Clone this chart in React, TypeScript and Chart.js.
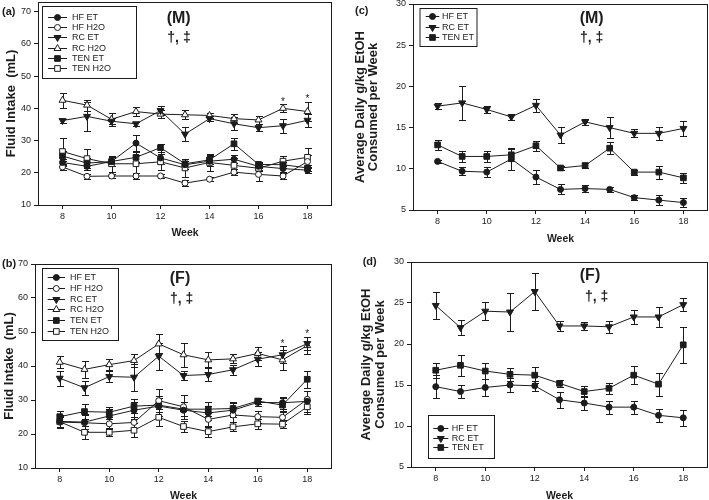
import React, { useEffect, useRef } from 'react';
import { Chart, registerables } from 'chart.js';
import { drawPoint } from 'chart.js/helpers';

Chart.register(...registerables);

const INK = '#1c1c1c';
const FONT = 'Arial, "Liberation Sans", Helvetica, sans-serif';
Chart.defaults.font.family = FONT;

// ---------- shared axes ----------
const weeks = [8, 9, 10, 11, 12, 13, 14, 15, 16, 17, 18];
const weekTicks = [8, 10, 12, 14, 16, 18];
const intakeTicks = [10, 20, 30, 40, 50, 60, 70];
const etohTicks = [5, 10, 15, 20, 25, 30];
const starWeeks = [17, 18];

// ---------- (a) Male fluid intake (mL) ----------
const aHfEt = [23.2, 22.0, 23.5, 29.2, 24.6, 22.5, 23.6, 24.2, 22.0, 21.3, 20.8];
const aHfEtErr = [1.0, 1.2, 1.5, 2.4, 2.0, 1.2, 1.5, 1.3, 1.0, 1.2, 1.0];
const aHfH2o = [21.8, 18.9, 19.0, 19.0, 19.0, 16.8, 18.0, 20.2, 19.5, 19.0, 23.5];
const aHfH2oErr = [1.0, 0.8, 0.7, 0.8, 0.6, 1.0, 0.6, 1.0, 2.0, 0.8, 2.0];
const aRcEt = [36.2, 37.5, 36.0, 35.2, 39.3, 32.0, 36.8, 35.2, 34.0, 34.6, 36.3];
const aRcEtErr = [0.6, 4.5, 1.0, 0.6, 1.5, 2.2, 0.8, 2.0, 1.0, 2.2, 2.0];
const aRcH2o = [42.5, 41.0, 36.6, 39.0, 38.2, 38.0, 37.8, 36.8, 36.4, 40.0, 39.0];
const aRcH2oErr = [2.4, 1.7, 2.0, 1.4, 1.3, 1.4, 0.9, 1.4, 1.2, 1.2, 3.0];
const aTenEt = [25.2, 23.0, 23.5, 24.8, 27.8, 22.8, 24.0, 29.0, 22.6, 22.5, 21.5];
const aTenEtErr = [1.5, 1.5, 1.5, 1.6, 1.2, 1.5, 1.4, 1.8, 0.8, 1.0, 1.0];
const aTenH2o = [26.6, 24.4, 22.8, 22.8, 23.4, 21.5, 23.2, 22.3, 21.4, 23.6, 24.8];
const aTenH2oErr = [4.2, 3.0, 2.5, 2.8, 2.5, 2.8, 2.5, 2.3, 1.0, 1.5, 3.0];

// ---------- (b) Female fluid intake (mL) ----------
const bHfEt = [23.7, 23.5, 25.3, 27.0, 28.2, 27.0, 26.2, 27.0, 29.3, 29.2, 29.6];
const bHfEtErr = [2.0, 2.0, 2.0, 2.5, 3.0, 2.5, 2.0, 2.0, 1.0, 1.8, 3.0];
const bHfH2o = [23.5, 23.3, 23.0, 23.4, 29.8, 28.0, 24.3, 25.6, 25.1, 24.9, 30.2];
const bHfH2oErr = [1.5, 2.5, 1.5, 1.5, 3.3, 3.5, 2.0, 2.0, 1.8, 2.0, 2.5];
const bRcEt = [36.4, 33.6, 36.9, 36.7, 42.9, 37.2, 37.5, 38.9, 42.0, 43.3, 46.6];
const bRcEtErr = [2.2, 2.0, 1.5, 4.0, 4.0, 1.3, 1.8, 1.5, 2.0, 2.5, 2.0];
const bRcH2o = [41.1, 39.0, 40.4, 41.6, 46.5, 43.3, 41.8, 42.1, 43.7, 41.8, 46.0];
const bRcH2oErr = [1.8, 2.5, 1.6, 2.0, 2.8, 3.5, 2.2, 1.3, 2.0, 3.0, 2.5];
const bTenEt = [25.1, 26.6, 26.4, 28.2, 28.5, 27.3, 27.3, 27.5, 29.7, 28.5, 36.1];
const bTenEtErr = [1.8, 2.2, 1.5, 2.0, 2.0, 2.0, 2.0, 1.8, 1.0, 2.0, 2.5];
const bTenH2o = [23.6, 20.5, 20.5, 21.1, 24.9, 22.2, 20.7, 22.1, 23.0, 22.9, 28.0];
const bTenH2oErr = [1.8, 2.0, 1.2, 2.0, 2.5, 1.5, 1.5, 1.3, 1.5, 1.2, 2.0];

// ---------- (c) Male EtOH g/kg ----------
const cHfEt = [10.9, 9.7, 9.6, 11.2, 9.0, 7.5, 7.6, 7.5, 6.5, 6.2, 5.9];
const cHfEtErr = [0.2, 0.5, 0.6, 1.3, 0.9, 0.6, 0.4, 0.3, 0.3, 0.6, 0.5];
const cRcEt = [17.6, 18.0, 17.2, 16.3, 17.7, 14.1, 15.7, 15.0, 14.3, 14.3, 14.9];
const cRcEtErr = [0.4, 2.1, 0.4, 0.4, 0.8, 1.0, 0.4, 1.3, 0.5, 0.8, 0.9];
const cTenEt = [12.9, 11.5, 11.5, 11.7, 12.8, 10.1, 10.4, 12.5, 9.6, 9.6, 8.9];
const cTenEtErr = [0.6, 0.7, 0.7, 0.7, 0.6, 0.2, 0.3, 0.7, 0.3, 0.8, 0.6];

// ---------- (d) Female EtOH g/kg ----------
const dHfEt = [14.8, 14.2, 14.7, 15.0, 14.9, 13.2, 12.8, 12.3, 12.3, 11.3, 11.0];
const dHfEtErr = [1.4, 0.8, 1.0, 0.8, 0.6, 1.0, 0.8, 0.8, 0.8, 0.8, 1.0];
const dRcEt = [24.7, 22.0, 24.0, 23.9, 26.4, 22.2, 22.2, 22.1, 23.3, 23.3, 24.8];
const dRcEtErr = [1.6, 0.9, 1.1, 2.3, 2.3, 0.6, 0.5, 0.7, 0.9, 1.2, 0.8];
const dTenEt = [16.8, 17.4, 16.7, 16.3, 16.2, 15.2, 14.2, 14.6, 16.2, 15.1, 19.9];
const dTenEtErr = [0.9, 1.3, 1.0, 0.8, 1.0, 0.4, 0.7, 0.7, 1.1, 1.4, 2.2];

type Marker = 'circle' | 'triangle' | 'rect';
interface SeriesDef { label: string; values: number[]; errors: number[]; marker: Marker; filled: boolean; down?: boolean; }
interface Note { text: string; x: number; y: number; size: number; align?: CanvasTextAlign; }
interface PanelDef {
  id: string;
  box: { left: number; top: number; width: number; height: number };
  area: { padTop: number; padRight: number; yWidth: number; xHeight: number };
  yMin: number; yMax: number; yTicks: number[];
  yTitle: string | string[]; yTitlePad: number; yTitleLH: number;
  xTitlePad: number;
  series: SeriesDef[];
  legend: { x: number; y: number; w: number; h: number; rowY: number; rowH: number; lineX0: number; lineX1: number; textX: number };
  notes: Note[];
  stars: number[];
}

const radiusFor = (m: Marker) => (m === 'circle' ? 3 : 4);

const sixSeries = (hfEt: number[], hfEtE: number[], hfW: number[], hfWE: number[], rcEt: number[], rcEtE: number[], rcW: number[], rcWE: number[], tenEt: number[], tenEtE: number[], tenW: number[], tenWE: number[]): SeriesDef[] => [
  { label: 'HF ET', values: hfEt, errors: hfEtE, marker: 'circle', filled: true },
  { label: 'HF H2O', values: hfW, errors: hfWE, marker: 'circle', filled: false },
  { label: 'RC ET', values: rcEt, errors: rcEtE, marker: 'triangle', filled: true, down: true },
  { label: 'RC H2O', values: rcW, errors: rcWE, marker: 'triangle', filled: false },
  { label: 'TEN ET', values: tenEt, errors: tenEtE, marker: 'rect', filled: true },
  { label: 'TEN H2O', values: tenW, errors: tenWE, marker: 'rect', filled: false },
];

const threeSeries = (hf: number[], hfE: number[], rc: number[], rcE: number[], ten: number[], tenE: number[]): SeriesDef[] => [
  { label: 'HF ET', values: hf, errors: hfE, marker: 'circle', filled: true },
  { label: 'RC ET', values: rc, errors: rcE, marker: 'triangle', filled: true, down: true },
  { label: 'TEN ET', values: ten, errors: tenE, marker: 'rect', filled: true },
];

const etohTitle = ['Average Daily g/kg EtOH', 'Consumed per Week'];

const panels: PanelDef[] = [
  {
    id: 'a',
    box: { left: 0, top: 0, width: 352, height: 250 },
    area: { padTop: 2, padRight: 20, yWidth: 38, xHeight: 45 },
    yMin: 10, yMax: 73, yTicks: intakeTicks,
    yTitle: 'Fluid Intake  (mL)', yTitlePad: 3.5, yTitleLH: 1.2, xTitlePad: 10.7,
    series: sixSeries(aHfEt, aHfEtErr, aHfH2o, aHfH2oErr, aRcEt, aRcEtErr, aRcH2o, aRcH2oErr, aTenEt, aTenEtErr, aTenH2o, aTenH2oErr),
    legend: { x: 42.5, y: 6.5, w: 94, h: 72, rowY: 17, rowH: 10.2, lineX0: 48, lineX1: 67, textX: 72 },
    notes: [
      { text: '(a)', x: 2, y: 11.5, size: 11, align: 'left' },
      { text: '(M)', x: 178.7, y: 19, size: 16 },
      { text: '†, ‡', x: 179, y: 37.7, size: 14 },
    ],
    stars: starWeeks,
  },
  {
    id: 'c',
    box: { left: 352, top: 0, width: 357, height: 250 },
    area: { padTop: 4, padRight: 1, yWidth: 61, xHeight: 40 },
    yMin: 5, yMax: 30, yTicks: etohTicks,
    yTitle: etohTitle, yTitlePad: 1.4, yTitleLH: 1.03, xTitlePad: 4.7,
    series: threeSeries(cHfEt, cHfEtErr, cRcEt, cRcEtErr, cTenEt, cTenEtErr),
    legend: { x: 68, y: 8.5, w: 57, h: 38, rowY: 15.7, rowH: 10.8, lineX0: 73.7, lineX1: 87.3, textX: 90 },
    notes: [
      { text: '(c)', x: 3, y: 11, size: 11, align: 'left' },
      { text: '(M)', x: 239.7, y: 19, size: 16 },
      { text: '†, ‡', x: 239.7, y: 37.7, size: 14 },
    ],
    stars: [],
  },
  {
    id: 'b',
    box: { left: 0, top: 250, width: 352, height: 250 },
    area: { padTop: 14, padRight: 20, yWidth: 35, xHeight: 32 },
    yMin: 10, yMax: 70, yTicks: intakeTicks,
    yTitle: 'Fluid Intake  (mL)', yTitlePad: 1.5, yTitleLH: 1.2, xTitlePad: -2.7,
    series: sixSeries(bHfEt, bHfEtErr, bHfH2o, bHfH2oErr, bRcEt, bRcEtErr, bRcH2o, bRcH2oErr, bTenEt, bTenEtErr, bTenH2o, bTenH2oErr),
    legend: { x: 42.5, y: 18.5, w: 76, h: 72, rowY: 27.3, rowH: 10.7, lineX0: 47.7, lineX1: 65, textX: 70 },
    notes: [
      { text: '(b)', x: 2, y: 14, size: 11, align: 'left' },
      { text: '(F)', x: 180, y: 28.3, size: 16 },
      { text: '†, ‡', x: 181.7, y: 49.5, size: 14 },
    ],
    stars: starWeeks,
  },
  {
    id: 'd',
    box: { left: 352, top: 250, width: 357, height: 250 },
    area: { padTop: 12, padRight: 1, yWidth: 59, xHeight: 33 },
    yMin: 5, yMax: 30, yTicks: etohTicks,
    yTitle: etohTitle, yTitlePad: 8, yTitleLH: 1.03, xTitlePad: -2.7,
    series: threeSeries(dHfEt, dHfEtErr, dRcEt, dRcEtErr, dTenEt, dTenEtErr),
    legend: { x: 76.5, y: 165.5, w: 66, h: 43, rowY: 177.7, rowH: 9.8, lineX0: 81.3, lineX1: 96.3, textX: 99.7 },
    notes: [
      { text: '(d)', x: 10.7, y: 11.7, size: 11, align: 'left' },
      { text: '(F)', x: 238, y: 25.8, size: 16 },
      { text: '†, ‡', x: 244.7, y: 47.5, size: 14 },
    ],
    stars: [],
  },
];

const errorBarPlugin = {
  id: 'errorBars',
  beforeDatasetsDraw(chart: any) {
    const { ctx } = chart;
    const xs = chart.scales.x;
    const ys = chart.scales.y;
    ctx.save();
    ctx.strokeStyle = INK;
    ctx.lineWidth = 1;
    chart.data.datasets.forEach((ds: any) => {
      ds.data.forEach((p: any, i: number) => {
        const e = ds.errors[i];
        const x = Math.round(xs.getPixelForValue(p.x)) + 0.5;
        const y0 = Math.round(ys.getPixelForValue(p.y - e)) + 0.5;
        const y1 = Math.round(ys.getPixelForValue(p.y + e)) + 0.5;
        ctx.beginPath();
        ctx.moveTo(x, y0);
        ctx.lineTo(x, y1);
        ctx.moveTo(x - 3.5, y0);
        ctx.lineTo(x + 3.5, y0);
        ctx.moveTo(x - 3.5, y1);
        ctx.lineTo(x + 3.5, y1);
        ctx.stroke();
      });
    });
    ctx.restore();
  },
};

function makePanelPlugin(def: PanelDef) {
  return {
    id: 'panelDecor_' + def.id,
    beforeDatasetsDraw(chart: any) {
      const { ctx, chartArea } = chart;
      ctx.save();
      ctx.strokeStyle = INK;
      ctx.lineWidth = 1;
      const l = Math.round(chartArea.left) + 0.5;
      const t = Math.round(chartArea.top) + 0.5;
      const r = Math.round(chartArea.right) - 0.5;
      const b = Math.round(chartArea.bottom) + 0.5;
      ctx.strokeRect(l, t, r - l, b - t);
      ctx.restore();
    },
    afterDatasetsDraw(chart: any) {
      const { ctx } = chart;
      const xs = chart.scales.x;
      const ys = chart.scales.y;
      ctx.save();
      // notes
      ctx.fillStyle = INK;
      def.notes.forEach((n) => {
        ctx.font = `bold ${n.size}px ${FONT}`;
        ctx.textAlign = n.align || 'center';
        ctx.textBaseline = 'middle';
        ctx.fillText(n.text, n.x, n.y);
      });
      // significance stars
      ctx.font = `10px ${FONT}`;
      ctx.textAlign = 'center';
      ctx.textBaseline = 'alphabetic';
      const m = ctx.measureText('*');
      const asc = m.actualBoundingBoxAscent || 7;
      const desc = m.actualBoundingBoxDescent || -4;
      def.stars.forEach((w) => {
        const i = weeks.indexOf(w);
        let top = -Infinity;
        def.series.forEach((s) => { top = Math.max(top, s.values[i] + s.errors[i]); });
        const cy = ys.getPixelForValue(top) - 5.5;
        const baseline = cy + (asc - desc) / 2;
        ctx.fillText('*', xs.getPixelForValue(w), baseline);
      });
      // legend
      const lg = def.legend;
      ctx.fillStyle = '#ffffff';
      ctx.fillRect(lg.x, lg.y, lg.w, lg.h);
      ctx.strokeStyle = INK;
      ctx.lineWidth = 1;
      ctx.strokeRect(lg.x, lg.y, lg.w, lg.h);
      def.series.forEach((s, i) => {
        const cy = Math.round(lg.rowY + i * lg.rowH) + 0.5;
        ctx.strokeStyle = INK;
        ctx.beginPath();
        ctx.moveTo(lg.lineX0, cy);
        ctx.lineTo(lg.lineX1, cy);
        ctx.stroke();
        ctx.fillStyle = s.filled ? INK : '#ffffff';
        drawPoint(ctx, { pointStyle: s.marker, radius: radiusFor(s.marker), rotation: s.down ? 180 : 0, borderWidth: 1 } as any, (lg.lineX0 + lg.lineX1) / 2, cy);
        ctx.fillStyle = INK;
        ctx.font = `9px ${FONT}`;
        ctx.textAlign = 'left';
        ctx.textBaseline = 'middle';
        ctx.fillText(s.label, lg.textX, cy);
      });
      ctx.restore();
    },
  };
}

function buildConfig(def: PanelDef): any {
  const datasets = def.series.map((s) => ({
    label: s.label,
    data: weeks.map((w, i) => ({ x: w, y: s.values[i] })),
    errors: s.errors,
    borderColor: INK,
    backgroundColor: INK,
    borderWidth: 1,
    pointStyle: s.marker,
    pointRadius: radiusFor(s.marker),
    pointRotation: s.down ? 180 : 0,
    pointBackgroundColor: s.filled ? INK : '#ffffff',
    pointBorderColor: INK,
    pointBorderWidth: 1,
    fill: false,
    tension: 0,
  }));
  const zeroPad = (sc: any) => { sc.paddingLeft = 0; sc.paddingRight = 0; sc.paddingTop = 0; sc.paddingBottom = 0; };
  return {
    type: 'line',
    data: { datasets },
    plugins: [errorBarPlugin, makePanelPlugin(def)],
    options: {
      responsive: false,
      animation: false,
      devicePixelRatio: 1,
      events: [],
      layout: { autoPadding: false, padding: { left: 0, top: def.area.padTop, right: def.area.padRight, bottom: 0 } },
      plugins: { legend: { display: false }, tooltip: { enabled: false }, title: { display: false } },
      scales: {
        x: {
          type: 'linear', min: 7, max: 19,
          afterBuildTicks: (sc: any) => { sc.ticks = weekTicks.map((v) => ({ value: v })); },
          afterFit: (sc: any) => { sc.height = def.area.xHeight; zeroPad(sc); },
          grid: { display: true, drawOnChartArea: false, drawTicks: true, tickLength: 4, color: INK, lineWidth: 1 },
          border: { display: false },
          ticks: { font: { family: FONT, size: 9 }, color: INK, padding: 2, autoSkip: false, maxRotation: 0, minRotation: 0 },
          title: { display: true, text: 'Week', color: INK, font: { family: FONT, size: 10.5, weight: 'bold' }, padding: { top: 0, bottom: def.xTitlePad } },
        },
        y: {
          type: 'linear', min: def.yMin, max: def.yMax,
          afterBuildTicks: (sc: any) => { sc.ticks = def.yTicks.map((v) => ({ value: v })); },
          afterFit: (sc: any) => { sc.width = def.area.yWidth; zeroPad(sc); },
          grid: { display: true, drawOnChartArea: false, drawTicks: true, tickLength: 4, color: INK, lineWidth: 1 },
          border: { display: false },
          ticks: { font: { family: FONT, size: 9 }, color: INK, padding: 3 },
          title: { display: true, text: def.yTitle, color: INK, font: { family: FONT, size: 13, weight: 'bold', lineHeight: def.yTitleLH }, padding: { top: def.yTitlePad, bottom: 0 } },
        },
      },
    },
  };
}

function Panel({ def }: { def: PanelDef }) {
  const ref = useRef<HTMLCanvasElement>(null);
  useEffect(() => {
    const canvas = ref.current;
    if (!canvas) return;
    const chart = new Chart(canvas, buildConfig(def));
    return () => chart.destroy();
  }, [def]);
  return (
    <canvas
      ref={ref}
      width={def.box.width}
      height={def.box.height}
      style={{ position: 'absolute', left: def.box.left, top: def.box.top, width: def.box.width, height: def.box.height }}
    />
  );
}

export default function App() {
  return (
    <div style={{ position: 'absolute', left: 0, top: 0, width: 709, height: 500, background: '#ffffff', overflow: 'hidden' }}>
      {panels.map((p) => (
        <Panel key={p.id} def={p} />
      ))}
    </div>
  );
}
